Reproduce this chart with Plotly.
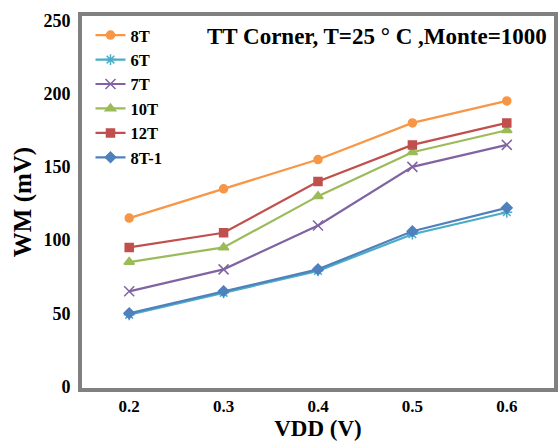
import plotly.graph_objects as go

vdd = [0.2, 0.3, 0.4, 0.5, 0.6]
series_names = ["8T", "6T", "7T", "10T", "12T", "8T-1"]
wm_8T = [115, 135, 155, 180, 195]
wm_6T = [49, 64, 79, 104, 119]
wm_7T = [65, 80, 110, 150, 165]
wm_10T = [85, 95, 130, 160, 175]
wm_12T = [95, 105, 140, 165, 180]
wm_8T1 = [50, 65, 80, 106, 122]
x_ticks = [0.2, 0.3, 0.4, 0.5, 0.6]
x_tick_labels = ["0.2", "0.3", "0.4", "0.5", "0.6"]
y_ticks = [0, 50, 100, 150, 200, 250]

colors = ["#F79646", "#4BACC6", "#8064A2", "#9BBB59", "#C0504D", "#4F81BD"]
symbols = ["circle", "asterisk-open", "x-thin-open", "triangle-up", "square", "diamond"]
sizes = [8, 9, 10, 9, 8, 8]
data = [wm_8T, wm_6T, wm_7T, wm_10T, wm_12T, wm_8T1]

font_fam = "Liberation Serif, Times New Roman, serif"

fig = go.Figure()
for name, ys, c, s, sz in zip(series_names, data, colors, symbols, sizes):
    fig.add_trace(go.Scatter(
        x=vdd, y=ys, name=name, mode="lines+markers",
        line=dict(color=c, width=2.2),
        marker=dict(symbol=s, size=sz, color=c, line=dict(color=c, width=1.5)),
    ))

fig.update_layout(
    width=560, height=442,
    margin=dict(l=82, r=2, t=16, b=54),
    paper_bgcolor="white", plot_bgcolor="white",
    font=dict(family=font_fam, color="black"),
    showlegend=True,
    legend=dict(x=0.018, y=0.995, xanchor="left", yanchor="top",
                font=dict(family=font_fam, size=16.5, color="black", weight="bold"),
                bgcolor="rgba(0,0,0,0)", tracegroupgap=0, itemwidth=30),
    xaxis=dict(range=[0.15, 0.65], tickvals=x_ticks, ticktext=x_tick_labels,
               showgrid=False, zeroline=False,
               showline=True, mirror=True, linecolor="#808080", linewidth=4,
               ticks="", ticklen=0,
               tickfont=dict(family=font_fam, size=17, color="black", weight="bold"),
               title=dict(text="VDD (V)", standoff=2,
                          font=dict(family=font_fam, size=23, color="black", weight="bold"))),
    yaxis=dict(range=[-1, 253], tickvals=y_ticks,
               showgrid=False, zeroline=False,
               showline=True, mirror=True, linecolor="#808080", linewidth=4,
               ticks="outside", ticklen=4, tickcolor="rgba(0,0,0,0)",
               tickfont=dict(family=font_fam, size=18, color="black", weight="bold"),
               title=dict(text="WM (mV)", standoff=6,
                          font=dict(family=font_fam, size=25, color="black", weight="bold"))),
    annotations=[dict(text="TT Corner, T=25 ° C ,Monte=1000", x=0.99, y=0.985,
                      xref="paper", yref="paper", xanchor="right", yanchor="top",
                      showarrow=False,
                      font=dict(family=font_fam, size=23, color="black", weight="bold"))],
)

fig.write_html("out.html")
